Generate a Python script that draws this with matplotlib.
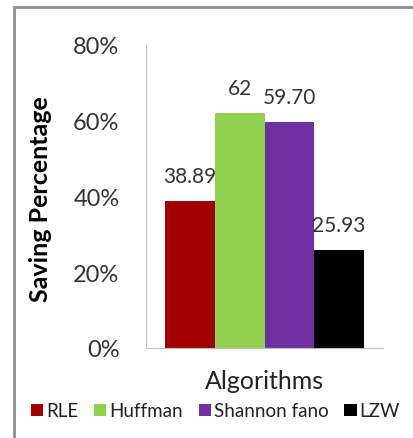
import matplotlib.pyplot as plt
from matplotlib.patches import Rectangle, Patch
from matplotlib.ticker import FuncFormatter

plt.rcParams['font.family'] = ['Lato', 'DejaVu Sans']

algorithms = ['RLE', 'Huffman', 'Shannon fano', 'LZW']
saving = [38.89, 62, 59.70, 25.93]
value_labels = ['38.89', '62', '59.70', '25.93']
colors = ['#A00000', '#92D050', '#7030A0', '#000000']
text_color = '#333333'

fig = plt.figure(figsize=(4.13, 4.39), dpi=100)
# outer chart frame
fig.patches.append(Rectangle((14 / 413, -0.1), 1.2, 1 - 8 / 439 + 0.1,
                             transform=fig.transFigure, fill=False,
                             edgecolor='#8c8c8c', linewidth=2))

ax = fig.add_axes([146 / 413, 1 - 349 / 439, 237 / 413, 303 / 439])
x = range(len(algorithms))
ax.bar(x, saving, width=1.0, color=colors)
for xi, v, t in zip(x, saving, value_labels):
    ax.text(xi, v + 4, t, ha='center', va='bottom', fontsize=15, color=text_color)

ax.set_xlim(-0.88, 3.88)
ax.set_ylim(0, 80)
ax.set_yticks([0, 20, 40, 60, 80])
ax.yaxis.set_major_formatter(FuncFormatter(lambda v, p: '%d%%' % v))
ax.set_xticks([])
ax.tick_params(axis='y', length=0, labelsize=17, pad=19, colors=text_color)
for s in ['top', 'right']:
    ax.spines[s].set_visible(False)
ax.spines['left'].set_color('#bfbfbf')
ax.spines['bottom'].set_color('#bfbfbf')

ax.set_xlabel('Algorithms', fontsize=18, color='#222222', labelpad=15)
fig.text(41 / 413, 1 - 199 / 439, 'Saving Percentage', rotation=90,
         ha='center', va='center', fontsize=18, fontweight='bold', color='#000000')

handles = [Patch(facecolor=c, label=a) for a, c in zip(algorithms, colors)]
fig.legend(handles=handles, loc='center left', bbox_to_anchor=(31 / 413, 1 - 412 / 439),
           ncol=4, frameon=False, fontsize=13.5, handlelength=0.65, handleheight=0.65,
           handletextpad=0.15, columnspacing=0.85, borderaxespad=0, borderpad=0,
           labelcolor='#222222')

plt.savefig('out.png', dpi=100)
